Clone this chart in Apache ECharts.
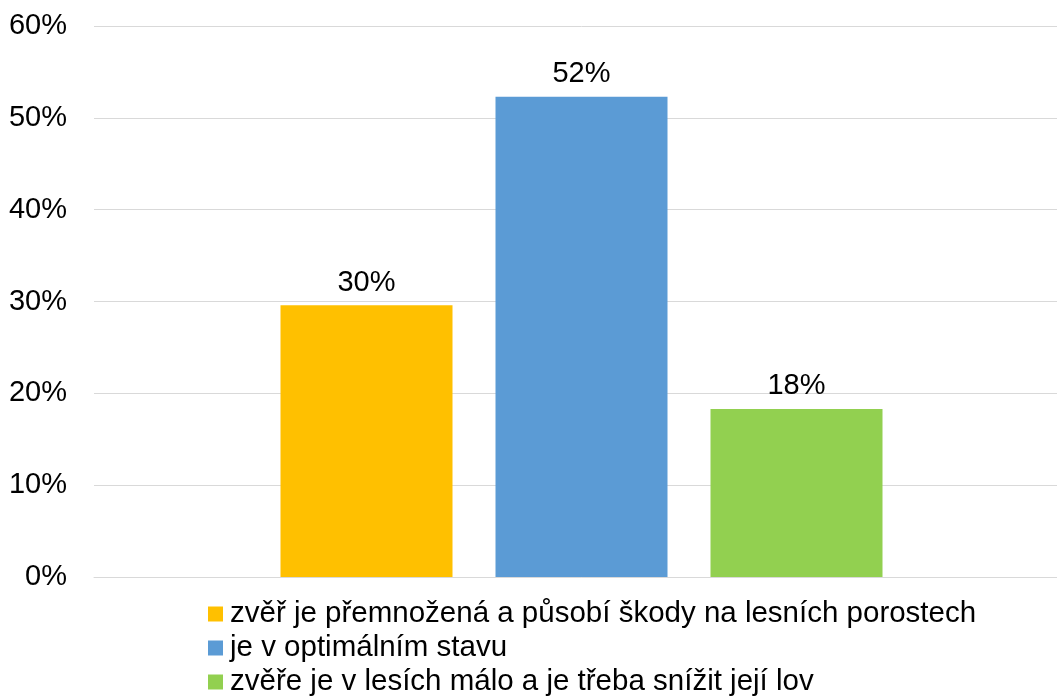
<!DOCTYPE html>
<html>
<head>
<meta charset="utf-8">
<script src="https://cdn.jsdelivr.net/npm/echarts@6/dist/echarts.min.js"></script>
<style>html,body{margin:0;padding:0;background:#fff;overflow:hidden;width:1057px;height:698px}#c{width:1069px;height:698px}</style>
</head>
<body>
<div id="c"></div>
<script>
const categories = [''];
const seriesNames = [
  'zvěř je přemnožená a působí škody na lesních porostech',
  'je v optimálním stavu',
  'zvěře je v lesích málo a je třeba snížit její lov'
];
const seriesValues = [29.6, 52.3, 18.3];
const seriesLabels = ['30%', '52%', '18%'];
const colors = ['#FFC000', '#5B9BD5', '#92D050'];
const yTicks = [0, 10, 20, 30, 40, 50, 60];

const font = 'Liberation Sans, Arial, sans-serif';
const chart = echarts.init(document.getElementById('c'));
chart.setOption({
  animation: false,
  color: colors,
  grid: { left: 94, right: 0, top: 26, bottom: 121, containLabel: false },
  xAxis: {
    type: 'category', data: categories,
    axisLine: { show: true, lineStyle: { color: '#d9d9d9', width: 1 } },
    axisTick: { show: false }, axisLabel: { show: false }
  },
  yAxis: {
    type: 'value', min: yTicks[0], max: yTicks[yTicks.length - 1], interval: 10,
    axisLine: { show: false }, axisTick: { show: false },
    splitLine: { lineStyle: { color: '#d9d9d9', width: 1 } },
    axisLabel: { formatter: v => v + '%', fontFamily: font, fontSize: 29, color: '#000', margin: 27, padding: [10, 0, 0, 0] }
  },
  legend: {
    orient: 'vertical', left: 208, top: 599, height: 99, padding: 0,
    itemWidth: 15, itemHeight: 15, itemGap: 4,
    icon: 'rect',
    textStyle: { fontFamily: font, fontSize: 29.5, lineHeight: 30, color: '#000', padding: [0, 0, 0, 2] },
    data: seriesNames
  },
  series: seriesNames.map((name, i) => ({
    name: name, type: 'bar',
    barWidth: 172, barGap: '25%',
    data: [seriesValues[i]],
    label: {
      show: true, position: 'top', distance: 8,
      formatter: () => seriesLabels[i],
      fontFamily: font, fontSize: 29, color: '#000'
    }
  }))
});
</script>
</body>
</html>
